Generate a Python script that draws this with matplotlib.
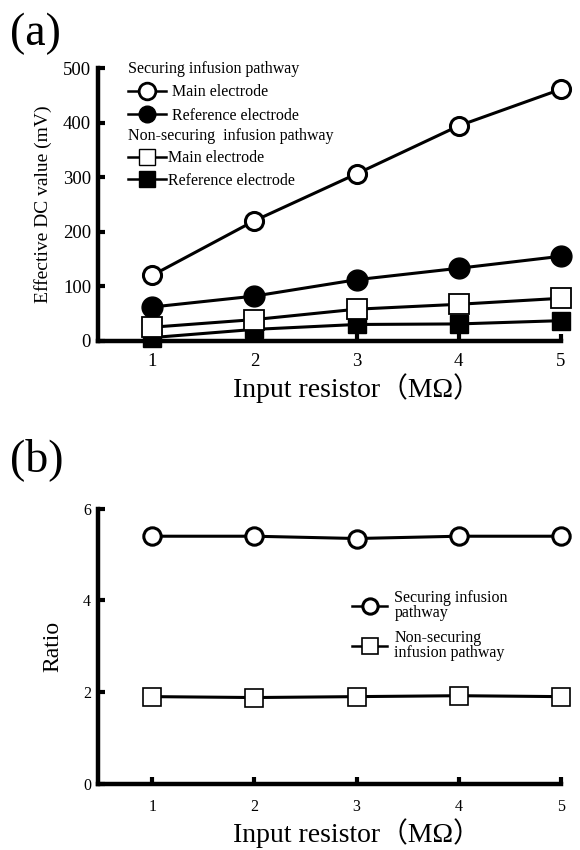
import numpy as np
import matplotlib
matplotlib.use('Agg')
import matplotlib.pyplot as plt
from matplotlib.lines import Line2D

plt.rcParams['font.family'] = ['Liberation Serif', 'Noto Sans CJK JP', 'DejaVu Sans']

# data
resistor = [1, 2, 3, 4, 5]
sec_main = [120, 220, 306, 394, 461]
sec_ref = [62, 82, 112, 133, 155]
non_main = [25, 39, 58, 67, 78]
non_ref = [6, 21, 30, 31, 37]

ratio_sec = [5.4, 5.4, 5.35, 5.4, 5.4]
ratio_non = [1.9, 1.88, 1.9, 1.92, 1.9]

xlabel = 'Input resistor（MΩ）'

fig = plt.figure(figsize=(5.8, 8.5), dpi=100)

def style_axes(ax, fs, xpad):
    for s in ['top', 'right']:
        ax.spines[s].set_visible(False)
    for s in ['left', 'bottom']:
        ax.spines[s].set_linewidth(3.2)
        ax.spines[s].set_capstyle('projecting')
    ax.tick_params(direction='in', length=5, width=3, labelsize=fs)
    ax.tick_params(axis='y', pad=5)
    ax.tick_params(axis='x', pad=xpad)
    ax.set_xlim(0.47, 5.0)
    ax.set_xticks(resistor)

# ---- panel (a)
ax = fig.add_axes([0.169, 0.599, 0.798, 0.321])
kw = dict(color='k', lw=2.2, clip_on=False, zorder=3)
ax.plot(resistor, sec_main, marker='o', ms=13, mfc='white', mec='k', mew=2.2, **kw)
ax.plot(resistor, sec_ref, marker='o', ms=15, mfc='k', mec='k', **kw)
ax.plot(resistor, non_ref, marker='s', ms=13, mfc='k', mec='k', **kw)
ax.plot(resistor, non_main, marker='s', ms=14, mfc='white', mec='k', mew=1.3, **kw)
ax.set_ylim(0, 500)
ax.set_yticks([0, 100, 200, 300, 400, 500])
style_axes(ax, 13.5, 9)
ax.set_ylabel('Effective DC value (mV)', fontsize=14, labelpad=8)
ax.set_xlabel(xlabel, fontsize=20, labelpad=2, x=0.56)

h_sec = [Line2D([], [], color='k', lw=1.8, marker='o', ms=12, mfc='white', mec='k', mew=2.0),
         Line2D([], [], color='k', lw=1.8, marker='o', ms=12, mfc='k', mec='k')]
h_non = [Line2D([], [], color='k', lw=1.8, marker='s', ms=12, mfc='white', mec='k', mew=1.0),
         Line2D([], [], color='k', lw=1.8, marker='s', ms=12, mfc='k', mec='k')]
leg1 = ax.legend(h_sec, ['Main electrode', 'Reference electrode'],
                 title='Securing infusion pathway', alignment='left',
                 loc='upper left', bbox_to_anchor=(0.065, 1.025), frameon=False,
                 fontsize=11.5, title_fontsize=11.5, handlelength=2.4,
                 handletextpad=0.35, labelspacing=0.45, borderpad=0, borderaxespad=0)
ax.add_artist(leg1)
ax.legend(h_non, ['Main electrode', 'Reference electrode'],
          title='Non-securing  infusion pathway', alignment='left',
          loc='upper left', bbox_to_anchor=(0.065, 0.78), frameon=False,
          fontsize=11.5, title_fontsize=11.5, handlelength=2.4,
          handletextpad=0.1, labelspacing=0.4, borderpad=0, borderaxespad=0)

fig.text(0.017, 0.96, '(a)', fontsize=33, va='center')

# ---- panel (b)
bx = fig.add_axes([0.169, 0.078, 0.798, 0.3235])
bx.plot(resistor, ratio_sec, marker='o', ms=12.5, mfc='white', mec='k', mew=2.2,
        label='Securing infusion\npathway', **kw)
bx.plot(resistor, ratio_non, marker='s', ms=13, mfc='white', mec='k', mew=1.2,
        label='Non-securing\ninfusion pathway', **kw)
bx.set_ylim(0, 6)
bx.set_yticks([0, 2, 4, 6])
style_axes(bx, 11.5, 11)
bx.set_ylabel('Ratio', fontsize=17, labelpad=14)
bx.set_xlabel(xlabel, fontsize=20, labelpad=2, x=0.56)
legb = bx.legend(loc='upper left', bbox_to_anchor=(0.549, 0.705), frameon=False,
                 fontsize=11.5, handlelength=2.2, handletextpad=0.45,
                 labelspacing=0.55, borderpad=0, borderaxespad=0)
for h in legb.legend_handles:
    h.set_markersize(11)
    h.set_linewidth(1.8)
for t in legb.get_texts():
    t.set_linespacing(0.95)

fig.text(0.017, 0.459, '(b)', fontsize=33, va='center')

fig.savefig('out.png', dpi=100)
